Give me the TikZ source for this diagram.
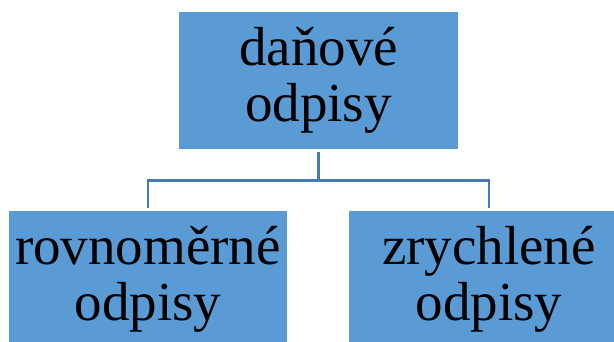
\documentclass[tikz,border=0pt]{standalone}
\usepackage{fontspec}
\setmainfont{Liberation Serif}
\definecolor{boxblue}{HTML}{5B9BD5}
\definecolor{lineblue}{HTML}{477AB3}
\tikzset{
  boxnode/.style={fill=boxblue, draw=none, inner sep=0pt, align=center,
    font=\fontsize{55}{56}\selectfont},
  link/.style={draw=lineblue, line width=2.6pt}
}
\begin{document}
\begin{tikzpicture}[x=1pt,y=-1pt]
\clip (0,0) rectangle (614,342);
\node[boxnode, minimum width=279pt, minimum height=137pt] (top) at (318.5,80.5) {daňové\\odpisy};
\node[boxnode, minimum width=278pt, minimum height=137pt] (left) at (148,279.5) {rovnoměrné\\odpisy};
\node[boxnode, minimum width=280pt, minimum height=137pt] (right) at (489,279.5) {zrychlené\\odpisy};
\coordinate (mid) at (318.5,180.5);
\draw[link] ([yshift=-3pt]top.south) -- (mid) -| ([yshift=3pt]left.north);
\draw[link] (mid) -| ([yshift=3pt]right.north);
\end{tikzpicture}
\end{document}
